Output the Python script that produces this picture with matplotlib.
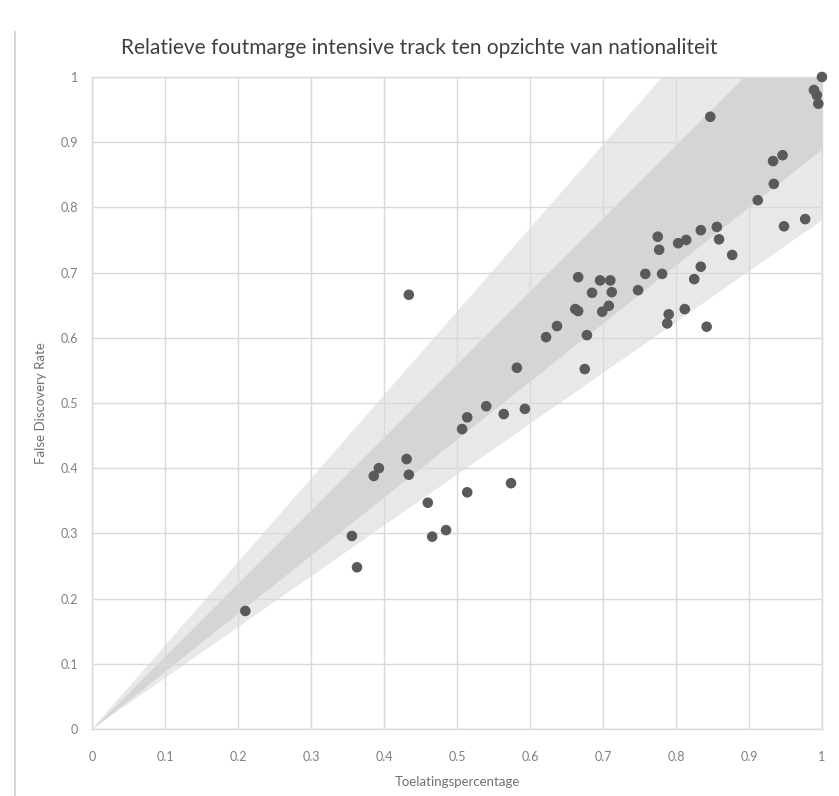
import numpy as np
import matplotlib
matplotlib.use("Agg")
import matplotlib.pyplot as plt
from matplotlib.lines import Line2D

# toelatingspercentage (x) en false discovery rate (y) per nationaliteit
toelating = [0.210, 0.356, 0.363, 0.386, 0.393, 0.431, 0.434, 0.434, 0.460, 0.466,
             0.485, 0.507, 0.514, 0.514, 0.540, 0.564, 0.574, 0.582, 0.593, 0.622,
             0.637, 0.662, 0.666, 0.666, 0.675, 0.678, 0.685, 0.696, 0.699, 0.708,
             0.710, 0.712, 0.748, 0.758, 0.775, 0.777, 0.781, 0.788, 0.790, 0.803,
             0.812, 0.814, 0.825, 0.834, 0.834, 0.842, 0.847, 0.856, 0.859, 0.877,
             0.912, 0.933, 0.934, 0.946, 0.948, 0.977, 0.989, 0.993, 0.995, 1.000]
fdr = [0.181, 0.296, 0.248, 0.388, 0.400, 0.414, 0.390, 0.666, 0.347, 0.295,
       0.305, 0.460, 0.478, 0.363, 0.495, 0.483, 0.377, 0.554, 0.491, 0.601,
       0.618, 0.644, 0.641, 0.693, 0.552, 0.604, 0.669, 0.688, 0.640, 0.649,
       0.688, 0.670, 0.673, 0.698, 0.755, 0.735, 0.698, 0.622, 0.636, 0.745,
       0.644, 0.750, 0.690, 0.709, 0.765, 0.617, 0.939, 0.770, 0.751, 0.727,
       0.811, 0.871, 0.836, 0.880, 0.771, 0.782, 0.980, 0.972, 0.959, 1.000]

# foutmarges rond de diagonaal (factor onder / boven)
marge_buiten = (0.78, 1.28)
marge_binnen = (0.89, 1.12)

ticks = [0, 0.1, 0.2, 0.3, 0.4, 0.5, 0.6, 0.7, 0.8, 0.9, 1]
tick_labels = ["0", "0.1", "0.2", "0.3", "0.4", "0.5", "0.6", "0.7", "0.8", "0.9", "1"]

plt.rcParams['font.family'] = ['Lato', 'DejaVu Sans']

fig = plt.figure(figsize=(8.39, 7.96), dpi=100)
ax = fig.add_axes([0.1097, 0.0842, 0.870, 0.8191])

x = np.linspace(0, 1, 200)
ax.fill_between(x, marge_buiten[0] * x, marge_buiten[1] * x, color='#e8e8e8', lw=0, zorder=1)
ax.fill_between(x, marge_binnen[0] * x, marge_binnen[1] * x, color='#d5d5d5', lw=0, zorder=2)

ax.scatter(toelating, fdr, s=58, color='#5a5a5a', edgecolors='none', zorder=5, clip_on=False)

ax.set_xlim(0, 1)
ax.set_ylim(0, 1)
ax.set_xticks(ticks)
ax.set_xticklabels(tick_labels)
ax.set_yticks(ticks)
ax.set_yticklabels(tick_labels)
ax.grid(True, color='#d9d9d9', lw=1, zorder=3)
ax.set_axisbelow(False)
for sp in ax.spines.values():
    sp.set_color('#d9d9d9')
    sp.set_linewidth(1)
ax.tick_params(length=0, labelsize=9, labelcolor='#7f7f7f')
ax.tick_params(axis='x', pad=16)
ax.tick_params(axis='y', pad=10)

fig.text(0.5, 1 - 48 / 796, "Relatieve foutmarge intensive track ten opzichte van nationaliteit",
         fontsize=15, color='#404040', ha='center', va='center')
ax.set_xlabel("Toelatingspercentage", fontsize=9.5, color='#6f6f6f', labelpad=9)
ax.set_ylabel("False Discovery Rate", fontsize=9.5, color='#6f6f6f', labelpad=10)

# kader van de grafiek
fig.add_artist(Line2D([15 / 839, 15 / 839], [0, 1 - 32 / 796], color='#d0d0d0', lw=1.2))

fig.savefig("out.png", dpi=100)
